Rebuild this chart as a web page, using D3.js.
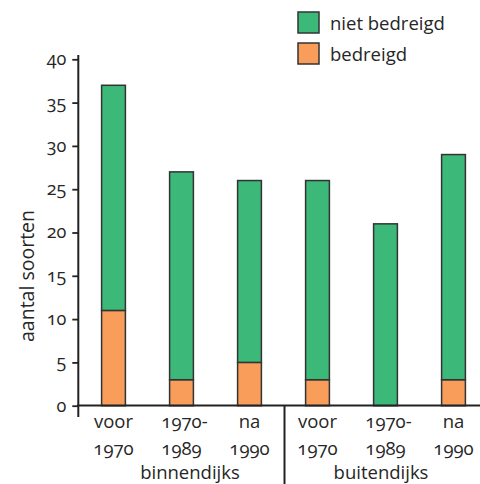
<!DOCTYPE html>
<html><head><meta charset="utf-8">
<script src="https://cdn.jsdelivr.net/npm/d3@7"></script>
<style>
body{margin:0;background:#fff;}
text{font-family:"Open Sans",sans-serif;font-variant-numeric:oldstyle-nums;font-feature-settings:"onum" 1;fill:#262626;}
</style></head><body>
<svg id="c" width="480" height="484"></svg>
<script>
const categories = [["voor","1970"],["1970-","1989"],["na","1990"],["voor","1970"],["1970-","1989"],["na","1990"]];
const groups = ["binnendijks","buitendijks"];
const bedreigd = [11,3,5,3,0,3];
const nietBedreigd = [26,24,21,23,21,26];
const yTicks = [0,5,10,15,20,25,30,35,40];
const seriesNames = ["niet bedreigd","bedreigd"];
const colors = {"niet bedreigd":"#3cb878","bedreigd":"#f99d5b"};

const svg = d3.select("#c");
const x = d3.scaleBand().domain(d3.range(categories.length)).range([79.5, 487.5]).paddingInner(0.65).paddingOuter(0.325);
const y = d3.scaleLinear().domain([0,40]).range([405.7, 59.3]);

const data = categories.map((c,i)=>({i, bedreigd:bedreigd[i], "niet bedreigd":nietBedreigd[i]}));
const stack = d3.stack().keys(["bedreigd","niet bedreigd"])(data);

svg.append("g").selectAll("g").data(stack).join("g")
  .attr("fill", d=>colors[d.key])
  .selectAll("rect").data(d=>d.filter(p=>p[1]-p[0]>0)).join("rect")
  .attr("x", d=>x(d.data.i))
  .attr("width", x.bandwidth())
  .attr("y", d=>y(d[1]))
  .attr("height", d=>y(d[0])-y(d[1]))
  .attr("stroke","#333").attr("stroke-width",1.5);

// y axis
const ya = d3.axisLeft(y).tickValues(yTicks).tickSize(6).tickPadding(6).tickFormat(d3.format("d"));
const yg = svg.append("g").attr("transform","translate(78.3,0)").call(ya);
yg.select(".domain").remove();
yg.selectAll(".tick line").attr("stroke","#222").attr("stroke-width",1.8);
yg.selectAll(".tick text").attr("font-size",18).attr("fill","#262626").style("font-family","Open Sans").attr("dy","0.3em");
svg.append("line").attr("x1",78.3).attr("x2",78.3).attr("y1",55).attr("y2",417).attr("stroke","#222").attr("stroke-width",2);
// baseline
svg.append("line").attr("x1",77).attr("x2",480).attr("y1",405.5).attr("y2",405.5).attr("stroke","#222").attr("stroke-width",2);
// separator
svg.append("line").attr("x1",284.5).attr("x2",284.5).attr("y1",405).attr("y2",484).attr("stroke","#222").attr("stroke-width",2);

// category labels
const cl = svg.append("g").selectAll("text").data(categories).join("text")
  .attr("text-anchor","middle").attr("font-size",18.5)
  .attr("transform",(d,i)=>`translate(${x(i)+x.bandwidth()/2},0)`);
cl.append("tspan").attr("x",(d,i)=>d[0].endsWith("-")?3:0).attr("y",428).text(d=>d[0]);
cl.append("tspan").attr("x",0).attr("y",455).text(d=>d[1]);

// group labels
const gx = [190, 381];
svg.append("g").selectAll("text").data(groups).join("text")
  .attr("x",(d,i)=>gx[i]).attr("y",479).attr("text-anchor","middle").attr("font-size",18.5).text(d=>d);

// y title
svg.append("text").attr("transform","translate(34,276) rotate(-90)").attr("text-anchor","middle").attr("font-size",19.5).text("aantal soorten");

// legend
const lg = svg.append("g").selectAll("g").data(seriesNames).join("g")
  .attr("transform",(d,i)=>`translate(298,${12+i*31})`);
lg.append("rect").attr("width",21).attr("height",21).attr("fill",d=>colors[d]).attr("stroke","#333").attr("stroke-width",1.5);
lg.append("text").attr("x",32).attr("y",18).attr("font-size",18.5).text(d=>d);
</script></body></html>
